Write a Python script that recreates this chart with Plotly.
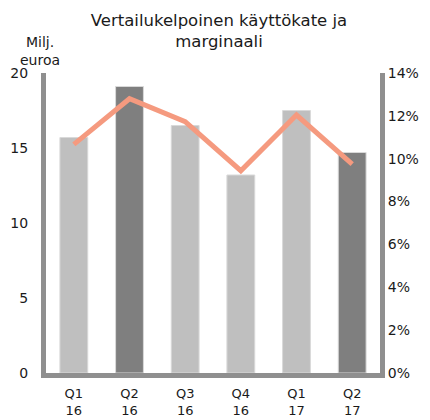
import plotly.graph_objects as go

categories = ["Q1<br>16", "Q2<br>16", "Q3<br>16", "Q4<br>16", "Q1<br>17", "Q2<br>17"]
ebitda = [15.7, 19.1, 16.5, 13.2, 17.5, 14.7]          # Milj. euroa
margin_pct = [10.67, 12.8, 11.73, 9.44, 12.04, 9.75]  # %
bar_colors = ["#bfbfbf", "#7f7f7f", "#bfbfbf", "#bfbfbf", "#bfbfbf", "#7f7f7f"]
left_ticks = [0, 5, 10, 15, 20]
right_ticks = [0, 2, 4, 6, 8, 10, 12, 14]
right_labels = [f"{v}%" for v in right_ticks]

# page is shown with an 8px body margin, so the figure is sized to fit the window
W, H = 422, 412
ML, MR, MT, MB = 38, 50, 65, 47
PW, PH = W - ML - MR, H - MT - MB

FONT = "DejaVu Sans"
AX = "#8f8f8f"
TXT = "#1a1a1a"

fig = go.Figure()
fig.add_trace(go.Bar(
    x=categories, y=ebitda,
    marker=dict(color=bar_colors, line=dict(color="#d9d9d9", width=1)),
    width=0.5, yaxis="y", showlegend=False,
))
fig.add_trace(go.Scatter(
    x=categories, y=margin_pct, mode="lines", yaxis="y2",
    line=dict(color="#f59a7f", width=5), showlegend=False,
))

fig.update_layout(
    width=W, height=H,
    margin=dict(l=ML, r=MR, t=MT, b=MB, pad=0, autoexpand=False),
    paper_bgcolor="white", plot_bgcolor="white",
    font=dict(family=FONT, size=14, color=TXT),
    title=dict(
        text="Vertailukelpoinen käyttökate ja<br>marginaali",
        x=0.5, xref="container", xanchor="center",
        y=1 - 18 / H, yref="container", yanchor="top",
        font=dict(family=FONT, size=16.5, color=TXT),
    ),
    xaxis=dict(
        range=[-0.5, 5.5], showgrid=False, zeroline=False, automargin=False,
        showline=True, linewidth=5, linecolor=AX,
        ticks="", ticklabelstandoff=4,
        tickfont=dict(family=FONT, size=13, color=TXT),
    ),
    yaxis=dict(
        range=[0, 20], tickvals=left_ticks, showgrid=False, zeroline=False, automargin=False,
        showline=True, linewidth=5, linecolor=AX,
        ticks="", ticklabelstandoff=10,
        tickfont=dict(family=FONT, size=14, color=TXT),
    ),
    yaxis2=dict(
        range=[0, 14], tickvals=right_ticks, ticktext=right_labels,
        overlaying="y", side="right", showgrid=False, zeroline=False, automargin=False,
        showline=True, linewidth=5, linecolor=AX,
        ticks="", ticklabelstandoff=0,
        tickfont=dict(family=FONT, size=14, color=TXT),
    ),
    annotations=[dict(
        text="Milj.<br>euroa", xref="paper", yref="paper",
        x=(32 - ML) / PW, y=1 + (MT - 24) / PH, xanchor="center", yanchor="top",
        showarrow=False, align="center",
        font=dict(family=FONT, size=14, color=TXT),
    )],
)

fig.write_html("out.html")
